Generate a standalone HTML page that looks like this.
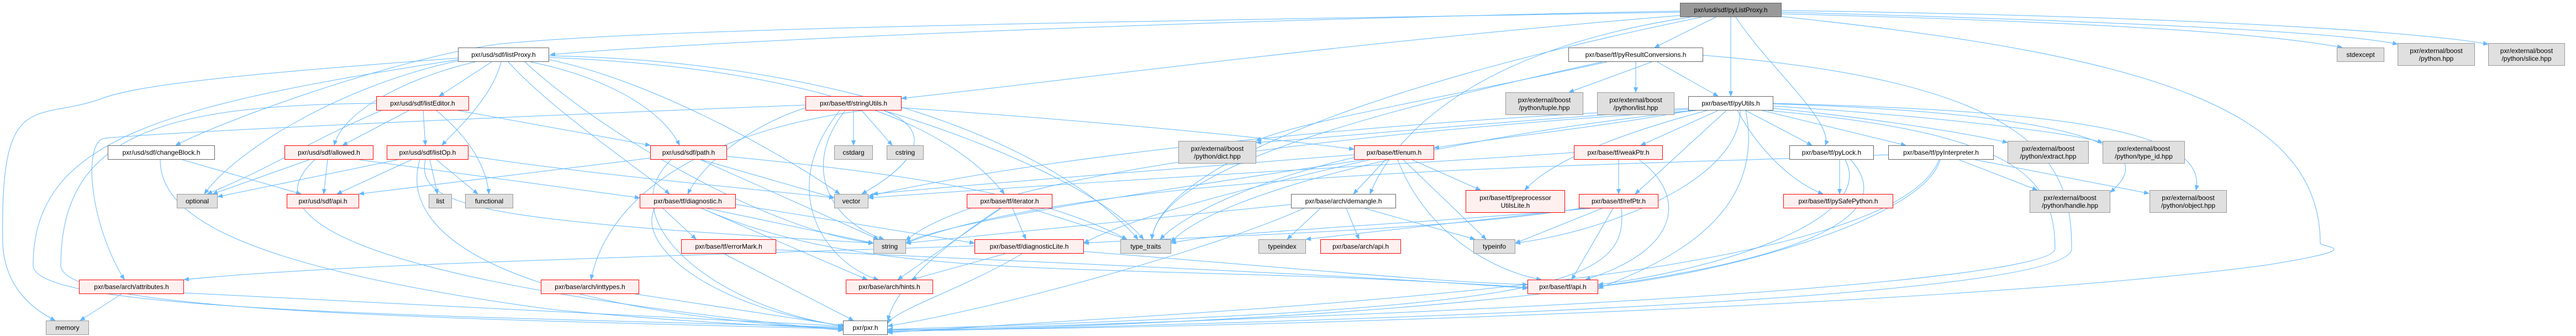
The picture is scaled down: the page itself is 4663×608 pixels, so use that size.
<!DOCTYPE html>
<html><head><meta charset="utf-8"><style>
html,body{margin:0;padding:0;background:#fff;}
#w{position:relative;width:4663px;height:608px;overflow:hidden;}
.n{position:absolute;box-sizing:border-box;display:flex;align-items:center;justify-content:center;text-align:center;font-family:"Liberation Sans",sans-serif;font-size:12px;line-height:14px;color:#000;white-space:nowrap;}
.r{border:1px solid #ff0000;background:#fff0f0;}
.g{border:1px solid #999;background:#e0e0e0;}
.w{border:1px solid #666;background:#fff;}
.k{border:1px solid #666;background:#999;}
svg{position:absolute;left:0;top:0;}
</style></head><body><div id="w">
<svg width="4663" height="608" viewBox="0 0 4663 608">
<defs><marker id="a" markerWidth="10" markerHeight="8" refX="9" refY="4" orient="auto" markerUnits="userSpaceOnUse"><path d="M0,0 L10,4 L0,8 z" fill="#63b8ff"/></marker></defs>
<g fill="none" stroke="#63b8ff" stroke-width="1" marker-end="url(#a)">
<path d="M3041,20 C2000,40 1200,80 996,99"/>
<path d="M3106,31 L2995,86"/>
<path d="M3133,31 L3133,174"/>
<path d="M3142,31 C3200,120 3320,220 3304,263"/>
<path d="M3225,25 C3800,40 4100,60 4240,86"/>
<path d="M3225,22 C3900,40 4250,60 4340,80"/>
<path d="M3225,19 C4000,30 4400,60 4504,80"/>
<path d="M3041,28 C2400,80 1900,150 1632,178"/>
<path d="M3060,31 C2600,100 2500,300 2480,351"/>
<path d="M3225,30 C3900,100 4200,200 4200,440 C4200,448 4300,448 4100,480 C3500,560 2000,600 1607,596"/>
<path d="M3041,22 C2000,40 1200,50 900,80 C700,110 400,220 318,263"/>
<path d="M3080,31 C2500,150 2100,300 2085,433"/>
<path d="M890,112 L795,174"/>
<path d="M860,112 C740,140 620,200 605,263"/>
<path d="M907,112 C890,180 820,240 800,263"/>
<path d="M829,110 C600,160 420,280 370,351"/>
<path d="M829,105 C500,130 250,150 180,180 C60,220 0,160 5,440 C8,520 60,560 100,580"/>
<path d="M829,108 C300,190 60,250 60,480 C60,560 700,570 1526,592"/>
<path d="M960,112 C1100,140 1200,200 1230,263"/>
<path d="M920,112 C1000,200 1150,300 1212,351"/>
<path d="M994,104 C1400,120 1700,200 1818,351"/>
<path d="M994,101 C1500,110 1900,250 2060,433"/>
<path d="M950,112 C1100,250 1400,420 1581,440"/>
<path d="M994,108 C1200,150 1450,300 1520,351"/>
<path d="M740,200 L620,263"/>
<path d="M766,200 L770,263"/>
<path d="M690,200 C550,260 500,300 375,351"/>
<path d="M790,200 C850,250 880,300 885,351"/>
<path d="M681,187 C300,190 110,240 110,480 C110,560 700,575 1526,595"/>
<path d="M830,200 L1177,263"/>
<path d="M330,289 L545,351"/>
<path d="M290,289 C290,380 400,480 1000,560 C1300,590 1500,592 1526,594"/>
<path d="M560,289 L385,351"/>
<path d="M593,289 L586,351"/>
<path d="M570,289 C470,380 560,500 1526,598"/>
<path d="M650,289 L1158,358"/>
<path d="M720,289 L394,356"/>
<path d="M745,289 L610,351"/>
<path d="M778,289 L792,351"/>
<path d="M790,289 L865,351"/>
<path d="M760,289 C720,420 900,560 1526,596"/>
<path d="M770,289 C750,380 900,400 1581,440"/>
<path d="M848,282 C1100,320 1400,345 1510,358"/>
<path d="M1177,286 L650,351"/>
<path d="M1270,289 L1510,358"/>
<path d="M1268,289 L1590,433"/>
<path d="M1316,283 C1700,320 1900,360 2040,433"/>
<path d="M1215,289 C1100,400 1300,560 1530,590"/>
<path d="M1545,200 L1545,263"/>
<path d="M1560,200 L1615,263"/>
<path d="M1600,200 C1700,240 1650,300 1560,351"/>
<path d="M1530,200 C1450,300 1500,400 1600,433"/>
<path d="M1520,200 C1400,350 1500,480 1590,506"/>
<path d="M1600,200 C1800,260 2000,350 2070,433"/>
<path d="M1632,195 C2000,220 2300,250 2451,270"/>
<path d="M1458,190 C700,220 300,240 190,250 C150,255 160,400 225,506"/>
<path d="M1560,200 C1200,250 1090,400 1070,506"/>
<path d="M1458,195 C1350,230 1270,300 1245,351"/>
<path d="M1280,377 L1581,440"/>
<path d="M1200,377 L1260,433"/>
<path d="M1270,377 L1570,506"/>
<path d="M1332,370 L1764,440"/>
<path d="M1185,377 C1150,450 1300,560 1530,590"/>
<path d="M1270,377 C1600,520 2000,470 2765,520"/>
<path d="M1310,459 L1545,580"/>
<path d="M1405,452 C2000,480 2500,500 2765,522"/>
<path d="M1833,377 L1857,433"/>
<path d="M1865,377 L2040,433"/>
<path d="M1812,377 L1625,506"/>
<path d="M1810,377 C1700,450 1620,520 1607,580"/>
<path d="M1820,459 L1650,506"/>
<path d="M1850,459 C1750,520 1620,560 1607,585"/>
<path d="M1962,455 C2400,490 2600,510 2765,515"/>
<path d="M1764,445 C1000,470 600,480 333,506"/>
<path d="M1150,532 L1530,590"/>
<path d="M220,532 L145,580"/>
<path d="M333,530 L1526,590"/>
<path d="M2508,289 L2450,351"/>
<path d="M2556,289 L2680,344"/>
<path d="M2540,289 L2690,433"/>
<path d="M2530,289 C2580,420 2700,490 2790,506"/>
<path d="M2451,280 C2200,300 1800,330 1580,351"/>
<path d="M2470,289 C2200,330 1700,400 1640,440"/>
<path d="M2451,285 C2300,320 2150,380 2100,433"/>
<path d="M2480,289 C2300,330 2050,390 1962,440"/>
<path d="M2390,377 L2330,433"/>
<path d="M2437,377 L2460,433"/>
<path d="M2470,377 L2670,433"/>
<path d="M2360,377 C2200,450 1800,560 1607,590"/>
<path d="M2337,370 L1640,440"/>
<path d="M2930,289 L2930,351"/>
<path d="M2967,289 C3050,350 3050,450 2870,506"/>
<path d="M2849,276 C2500,300 2100,320 1572,358"/>
<path d="M2900,377 L2743,440"/>
<path d="M2920,377 L2845,506"/>
<path d="M2880,377 C2500,410 2200,420 2120,440"/>
<path d="M2870,377 L2364,433"/>
<path d="M2935,377 C2950,520 2800,560 1607,596"/>
<path d="M2860,377 C2600,420 2100,430 1962,440"/>
<path d="M3110,200 L2970,263"/>
<path d="M3060,200 C2900,230 2700,250 2596,268"/>
<path d="M3125,200 L2960,351"/>
<path d="M3090,200 C2900,250 2800,300 2760,344"/>
<path d="M3160,200 L3280,263"/>
<path d="M3145,200 C3200,300 3270,340 3300,351"/>
<path d="M3190,200 L3450,263"/>
<path d="M3210,196 C3450,220 3600,250 3634,258"/>
<path d="M3210,192 C3500,210 3750,240 3806,258"/>
<path d="M3210,188 C3600,200 3950,240 3820,348"/>
<path d="M3210,187 C3700,200 4000,230 3975,344"/>
<path d="M3160,200 C3200,400 3000,480 2893,522"/>
<path d="M3150,200 C3150,330 2900,420 2743,440"/>
<path d="M3056,198 C2700,220 2400,250 2274,258"/>
<path d="M3056,196 C2500,220 1900,280 1572,355"/>
<path d="M3070,200 C2600,230 1800,300 1640,435"/>
<path d="M3070,200 C2600,250 2200,350 2120,438"/>
<path d="M3200,200 C3650,240 3720,320 3720,450 C3720,500 3000,560 1607,598"/>
<path d="M2990,112 L2840,167"/>
<path d="M2961,112 L2961,167"/>
<path d="M3000,112 L3110,174"/>
<path d="M2909,112 C2600,180 2350,220 2274,255"/>
<path d="M3083,100 C3700,150 3750,300 3750,450 C3750,520 3000,570 1607,600"/>
<path d="M2900,112 C2500,200 2100,300 2085,433"/>
<path d="M3330,289 L3330,351"/>
<path d="M3340,289 C3400,400 3100,490 2893,515"/>
<path d="M3350,289 C3450,400 3300,560 1607,600"/>
<path d="M3546,289 L3688,344"/>
<path d="M3575,289 L3890,350"/>
<path d="M3512,289 C3480,400 3100,500 2893,518"/>
<path d="M3510,289 C3420,520 2200,560 1607,602"/>
<path d="M3418,280 C3000,300 2000,300 1640,440"/>
</g>
</svg>
<div class="n k" style="left:3041px;top:5px;width:184px;height:26px">pxr/usd/sdf/pyListProxy.h</div>
<div class="n w" style="left:829px;top:86px;width:165px;height:26px">pxr/usd/sdf/listProxy.h</div>
<div class="n w" style="left:2839px;top:86px;width:244px;height:26px">pxr/base/tf/pyResultConversions.h</div>
<div class="n g" style="left:4230px;top:86px;width:86px;height:26px">stdexcept</div>
<div class="n g" style="left:4340px;top:78px;width:140px;height:41px">pxr/external/boost<br>/python.hpp</div>
<div class="n g" style="left:4504px;top:78px;width:139px;height:41px">pxr/external/boost<br>/python/slice.hpp</div>
<div class="n r" style="left:681px;top:174px;width:168px;height:26px">pxr/usd/sdf/listEditor.h</div>
<div class="n r" style="left:1458px;top:174px;width:174px;height:26px">pxr/base/tf/stringUtils.h</div>
<div class="n g" style="left:2725px;top:167px;width:141px;height:41px">pxr/external/boost<br>/python/tuple.hpp</div>
<div class="n g" style="left:2891px;top:167px;width:140px;height:41px">pxr/external/boost<br>/python/list.hpp</div>
<div class="n w" style="left:3056px;top:174px;width:154px;height:26px">pxr/base/tf/pyUtils.h</div>
<div class="n w" style="left:195px;top:263px;width:194px;height:26px">pxr/usd/sdf/changeBlock.h</div>
<div class="n r" style="left:515px;top:263px;width:161px;height:26px">pxr/usd/sdf/allowed.h</div>
<div class="n r" style="left:700px;top:263px;width:148px;height:26px">pxr/usd/sdf/listOp.h</div>
<div class="n r" style="left:1177px;top:263px;width:139px;height:26px">pxr/usd/sdf/path.h</div>
<div class="n g" style="left:1510px;top:263px;width:70px;height:26px">cstdarg</div>
<div class="n g" style="left:1605px;top:263px;width:67px;height:26px">cstring</div>
<div class="n g" style="left:2133px;top:255px;width:141px;height:41px">pxr/external/boost<br>/python/dict.hpp</div>
<div class="n r" style="left:2451px;top:263px;width:145px;height:26px">pxr/base/tf/enum.h</div>
<div class="n r" style="left:2849px;top:263px;width:161px;height:26px">pxr/base/tf/weakPtr.h</div>
<div class="n w" style="left:3239px;top:263px;width:153px;height:26px">pxr/base/tf/pyLock.h</div>
<div class="n w" style="left:3418px;top:263px;width:191px;height:26px">pxr/base/tf/pyInterpreter.h</div>
<div class="n g" style="left:3634px;top:255px;width:147px;height:41px">pxr/external/boost<br>/python/extract.hpp</div>
<div class="n g" style="left:3806px;top:255px;width:149px;height:41px">pxr/external/boost<br>/python/type_id.hpp</div>
<div class="n g" style="left:320px;top:351px;width:74px;height:26px">optional</div>
<div class="n r" style="left:519px;top:351px;width:131px;height:26px">pxr/usd/sdf/api.h</div>
<div class="n g" style="left:776px;top:351px;width:42px;height:26px">list</div>
<div class="n g" style="left:842px;top:351px;width:87px;height:26px">functional</div>
<div class="n r" style="left:1158px;top:351px;width:174px;height:26px">pxr/base/tf/diagnostic.h</div>
<div class="n g" style="left:1510px;top:351px;width:62px;height:26px">vector</div>
<div class="n r" style="left:1750px;top:351px;width:155px;height:26px">pxr/base/tf/iterator.h</div>
<div class="n w" style="left:2337px;top:351px;width:190px;height:26px">pxr/base/arch/demangle.h</div>
<div class="n r" style="left:2653px;top:344px;width:180px;height:41px">pxr/base/tf/preprocessor<br>UtilsLite.h</div>
<div class="n r" style="left:2858px;top:351px;width:144px;height:26px">pxr/base/tf/refPtr.h</div>
<div class="n r" style="left:3228px;top:351px;width:199px;height:26px">pxr/base/tf/pySafePython.h</div>
<div class="n g" style="left:3674px;top:344px;width:146px;height:41px">pxr/external/boost<br>/python/handle.hpp</div>
<div class="n g" style="left:3891px;top:344px;width:140px;height:41px">pxr/external/boost<br>/python/object.hpp</div>
<div class="n r" style="left:1233px;top:433px;width:172px;height:26px">pxr/base/tf/errorMark.h</div>
<div class="n g" style="left:1581px;top:433px;width:59px;height:26px">string</div>
<div class="n r" style="left:1764px;top:433px;width:198px;height:26px">pxr/base/tf/diagnosticLite.h</div>
<div class="n g" style="left:2028px;top:433px;width:92px;height:26px">type_traits</div>
<div class="n g" style="left:2278px;top:433px;width:86px;height:26px">typeindex</div>
<div class="n r" style="left:2390px;top:433px;width:146px;height:26px">pxr/base/arch/api.h</div>
<div class="n g" style="left:2667px;top:433px;width:76px;height:26px">typeinfo</div>
<div class="n r" style="left:143px;top:506px;width:190px;height:26px">pxr/base/arch/attributes.h</div>
<div class="n r" style="left:979px;top:506px;width:178px;height:26px">pxr/base/arch/inttypes.h</div>
<div class="n r" style="left:1531px;top:506px;width:158px;height:26px">pxr/base/arch/hints.h</div>
<div class="n r" style="left:2765px;top:506px;width:128px;height:26px">pxr/base/tf/api.h</div>
<div class="n g" style="left:83px;top:580px;width:78px;height:26px">memory</div>
<div class="n w" style="left:1526px;top:580px;width:81px;height:26px">pxr/pxr.h</div>
</div></body></html>
